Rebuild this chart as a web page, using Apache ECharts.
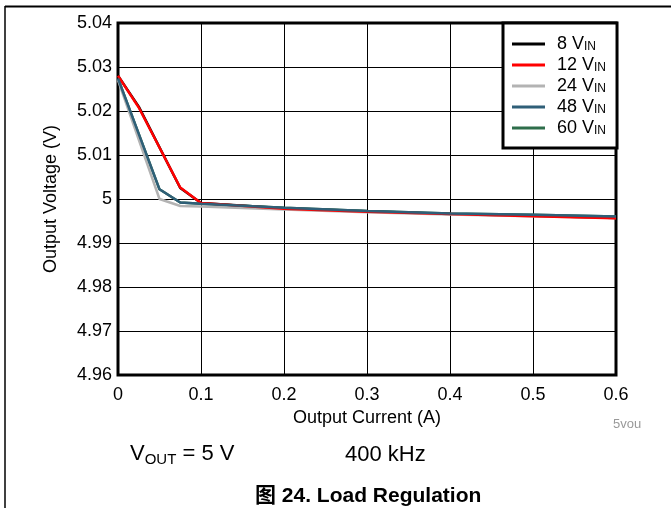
<!DOCTYPE html>
<html>
<head>
<meta charset="utf-8">
<script src="https://cdn.jsdelivr.net/npm/echarts@6/dist/echarts.min.js"></script>
<style>
html,body{margin:0;padding:0;background:#fff;}
#chart{width:671px;height:508px;}
</style>
</head>
<body>
<div id="chart"></div>
<script>
// ---- Data ----
const seriesNames = ['8 VIN', '12 VIN', '24 VIN', '48 VIN', '60 VIN'];
const seriesColors = ['#000000', '#ff0000', '#b3b3b3', '#2f5f78', '#2e6e4b'];
const current8  = [0, 0.025, 0.075, 0.1, 0.2, 0.3, 0.4, 0.5, 0.6];
const vout8     = [5.028, 5.021, 5.0025, 4.9991, 4.9979, 4.9972, 4.9966, 4.9962, 4.9957];
const current12 = [0, 0.025, 0.075, 0.1, 0.2, 0.3, 0.4, 0.5, 0.6];
const vout12    = [5.028, 5.0208, 5.0026, 4.9991, 4.9978, 4.9971, 4.9966, 4.9961, 4.9956];
const current24 = [0, 0.05, 0.075, 0.1, 0.2, 0.3, 0.4, 0.5, 0.6];
const vout24    = [5.027, 5.0000, 4.9984, 4.9983, 4.9976, 4.9970, 4.9965, 4.9961, 4.9957];
const current48 = [0, 0.05, 0.075, 0.1, 0.2, 0.3, 0.4, 0.5, 0.6];
const vout48    = [5.0274, 5.0022, 4.9992, 4.9989, 4.9980, 4.9973, 4.9967, 4.9964, 4.9960];
const current60 = [0, 0.05, 0.075, 0.1, 0.2, 0.3, 0.4, 0.5, 0.6];
const vout60    = [5.0274, 5.0022, 4.9992, 4.9989, 4.9980, 4.9973, 4.9967, 4.9964, 4.9960];
const xTickLabels = ['0', '0.1', '0.2', '0.3', '0.4', '0.5', '0.6'];
const yTickLabels = ['4.96', '4.97', '4.98', '4.99', '5', '5.01', '5.02', '5.03', '5.04'];

const xs = [current8, current12, current24, current48, current60];
const ys = [vout8, vout12, vout24, vout48, vout60];
const drawOrder = [0, 4, 2, 1, 3]; // 48 V drawn on top

const FONT = 'Liberation Sans, Arial, sans-serif';

const series = drawOrder.map(i => ({
  name: seriesNames[i],
  type: 'line',
  data: xs[i].map((x, k) => [x, ys[i][k]]),
  showSymbol: false,
  symbol: 'none',
  lineStyle: { color: seriesColors[i], width: 2.5 },
  itemStyle: { color: seriesColors[i] },
  animation: false
}));

const chart = echarts.init(document.getElementById('chart'), null, { renderer: 'canvas' });
chart.setOption({
  animation: false,
  backgroundColor: '#ffffff',
  grid: {
    left: 118, right: 55, top: 23, bottom: 133,
    show: true, borderColor: '#000', borderWidth: 3, backgroundColor: 'transparent', z: 3
  },
  xAxis: {
    type: 'value', min: 0, max: 0.6, interval: 0.1,
    axisLine: { show: false }, axisTick: { show: false },
    splitLine: { show: true, lineStyle: { color: '#000', width: 1 } },
    axisLabel: {
      color: '#000', fontSize: 18, fontFamily: FONT, margin: 11,
      formatter: (v) => xTickLabels[Math.round(v * 10)]
    },
    name: 'Output Current (A)', nameLocation: 'middle', nameGap: 34,
    nameTextStyle: { color: '#000', fontSize: 18, fontFamily: FONT }
  },
  yAxis: {
    type: 'value', min: 4.96, max: 5.04, interval: 0.01,
    axisLine: { show: false }, axisTick: { show: false },
    splitLine: { show: true, lineStyle: { color: '#000', width: 1 } },
    axisLabel: {
      color: '#000', fontSize: 18, fontFamily: FONT, margin: 6,
      formatter: (v) => yTickLabels[Math.round((v - 4.96) * 100)]
    },
    name: 'Output Voltage (V)', nameLocation: 'middle', nameGap: 58,
    nameTextStyle: { color: '#000', fontSize: 18, fontFamily: FONT }
  },
  legend: {
    data: seriesNames,
    orient: 'vertical',
    left: 503, top: 23,
    padding: [11, 11, 11, 9],
    itemGap: 2,
    itemWidth: 33, itemHeight: 3,
    icon: 'rect',
    backgroundColor: '#fff',
    borderColor: '#000', borderWidth: 3,
    z: 10,
    formatter: (name) => '{n|' + name.replace('VIN', 'V') + '}{s|IN}',
    textStyle: {
      color: '#000', fontFamily: FONT, fontSize: 18, width: 55, padding: [0, 0, 0, 7],
      rich: {
        n: { fontSize: 18, fontFamily: FONT, color: '#000', lineHeight: 18, verticalAlign: 'middle' },
        s: { fontSize: 12, fontFamily: FONT, color: '#000', lineHeight: 18, verticalAlign: 'bottom', padding: [7, 0, 0, 0] }
      }
    }
  },
  graphic: [
    { type: 'line', shape: { x1: 5, y1: 6.5, x2: 671, y2: 6.5 }, style: { stroke: '#000', lineWidth: 2 } },
    { type: 'line', shape: { x1: 5, y1: 6, x2: 5, y2: 508 }, style: { stroke: '#000', lineWidth: 1.5 } },
    { type: 'text', left: 613, top: 418, style: { text: '5vou', fill: '#999', font: '13px ' + FONT } },
    { type: 'text', left: 130, top: 443, style: {
        text: '{n|V}{s|OUT}{n| = 5 V}', fill: '#000',
        rich: {
          n: { fontSize: 22, fontFamily: FONT, fill: '#000', lineHeight: 26, verticalAlign: 'middle' },
          s: { fontSize: 15, fontFamily: FONT, fill: '#000', lineHeight: 26, verticalAlign: 'bottom', padding: [9, 0, 0, 0] }
        } } },
    { type: 'text', left: 345, top: 444, style: { text: '400 kHz', fill: '#000', font: '22px ' + FONT } },
    { type: 'text', left: 255, top: 486, style: { text: '图 24. Load Regulation', fill: '#000',
        font: 'bold 21px "Liberation Sans", "Noto Sans CJK SC", sans-serif' } }
  ],
  series: series
});
</script>
</body>
</html>
